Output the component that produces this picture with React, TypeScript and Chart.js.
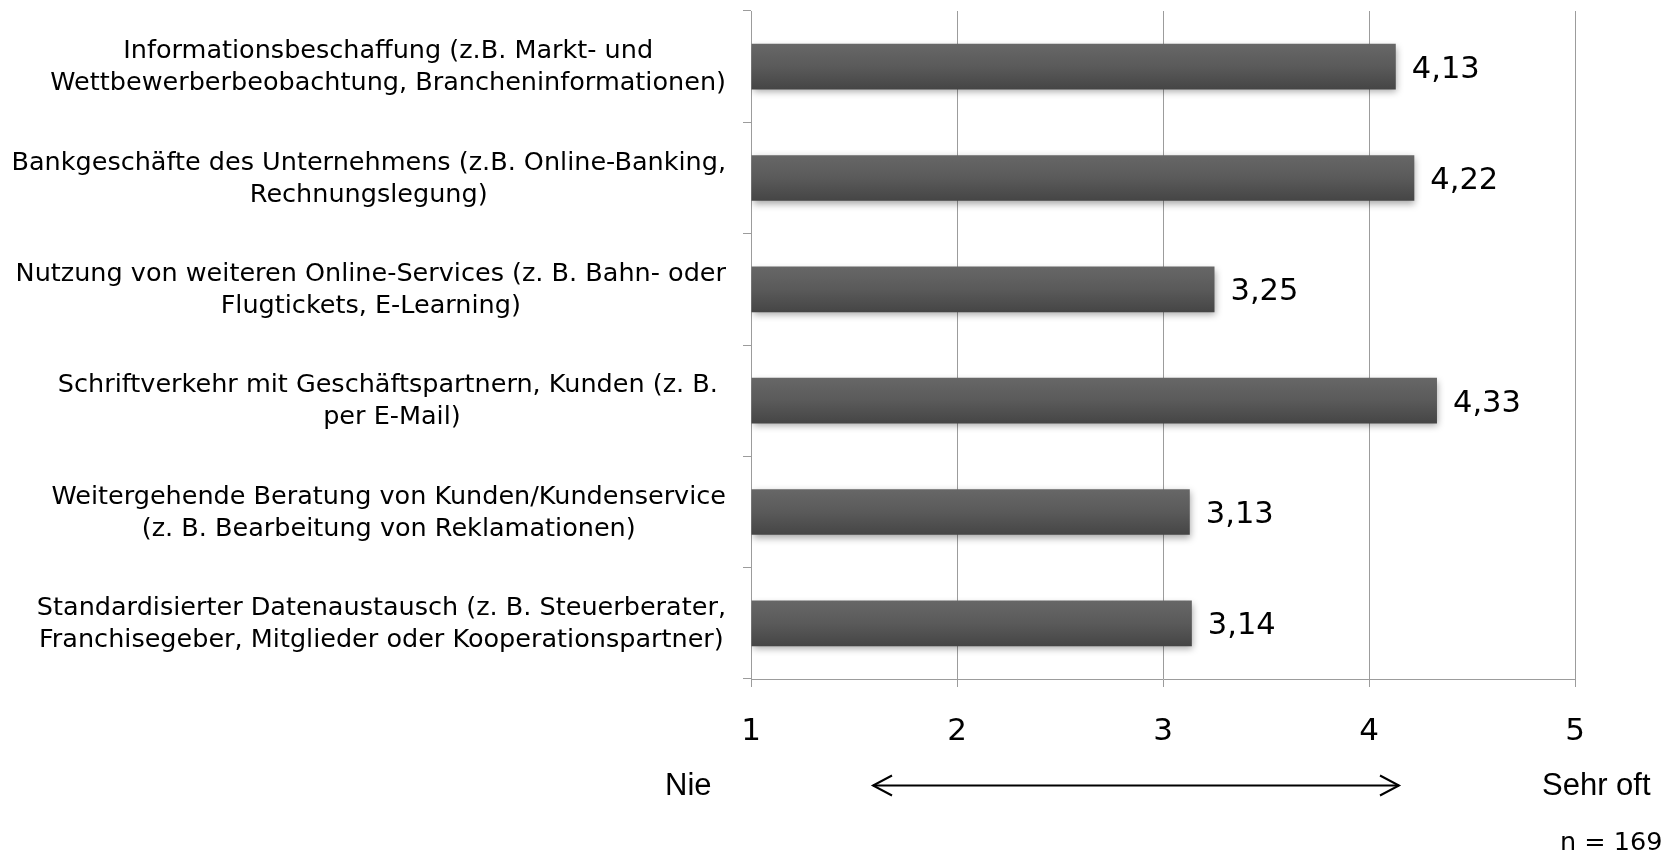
import { useEffect, useRef } from 'react';
import { Chart, registerables } from 'chart.js';

Chart.register(...registerables);

const categories: string[][] = [
  ['Informationsbeschaffung (z.B. Markt- und', 'Wettbewerberbeobachtung, Brancheninformationen)'],
  ['Bankgeschäfte des Unternehmens (z.B. Online-Banking,', 'Rechnungslegung)'],
  ['Nutzung von weiteren Online-Services (z. B. Bahn- oder', 'Flugtickets, E-Learning)'],
  ['Schriftverkehr mit Geschäftspartnern, Kunden (z. B. ', 'per E-Mail)'],
  ['Weitergehende Beratung von Kunden/Kundenservice', '(z. B. Bearbeitung von Reklamationen)'],
  ['Standardisierter Datenaustausch (z. B. Steuerberater,', 'Franchisegeber, Mitglieder oder Kooperationspartner)'],
];
const values: number[] = [4.13, 4.22, 3.25, 4.33, 3.13, 3.14];
const axisMin = 1;
const axisMax = 5;
const lowLabel = 'Nie';
const highLabel = 'Sehr oft';
const sampleNote = 'n = 169';

const FONT = '"DejaVu Sans", sans-serif';
const GRID = '#9c9c9c';
const BAR_FRACTION = 0.41;

const fmt = (v: number) => v.toFixed(2).replace('.', ',');

const customPlugin = {
  id: 'customDecor',
  beforeDatasetsDraw(chart: any) {
    const ctx = chart.ctx;
    ctx.save();
    ctx.shadowColor = 'rgba(0,0,0,0.35)';
    ctx.shadowBlur = 7;
    ctx.shadowOffsetX = 1;
    ctx.shadowOffsetY = 3;
  },
  afterDatasetsDraw(chart: any) {
    const ctx = chart.ctx;
    ctx.restore();
    const meta = chart.getDatasetMeta(0);
    ctx.save();
    ctx.fillStyle = '#000';
    ctx.font = `30.5px ${FONT}`;
    ctx.textAlign = 'left';
    ctx.textBaseline = 'middle';
    meta.data.forEach((bar: any, i: number) => {
      ctx.fillText(fmt(values[i]), bar.x + 16, bar.y + 3);
    });
    ctx.restore();
  },
  afterDraw(chart: any) {
    const ctx = chart.ctx;
    const ys = chart.scales.y;
    const area = chart.chartArea;
    ctx.save();
    ctx.fillStyle = '#000';
    ctx.font = `25.5px ${FONT}`;
    ctx.textBaseline = 'middle';
    ctx.textAlign = 'center';
    const rightEdge = area.left - 25;
    const lineH = 32;
    categories.forEach((lines, i) => {
      const cy = ys.getPixelForValue(i) + 1;
      const w = Math.max(...lines.map((l) => ctx.measureText(l).width));
      const cx = rightEdge - w / 2;
      lines.forEach((l, j) => {
        ctx.fillText(l, cx, cy + (j - (lines.length - 1) / 2) * lineH);
      });
    });

    // bottom annotations
    ctx.font = '31px "Liberation Sans", Arial, sans-serif';
    ctx.textBaseline = 'alphabetic';
    ctx.textAlign = 'left';
    ctx.fillText(lowLabel, 665, 795);
    ctx.fillText(highLabel, 1542, 795);

    ctx.strokeStyle = '#000';
    ctx.lineWidth = 2;
    const ay = 785.5;
    const x1 = 873;
    const x2 = 1399;
    ctx.beginPath();
    ctx.moveTo(x1, ay);
    ctx.lineTo(x2, ay);
    ctx.stroke();
    ctx.beginPath();
    ctx.moveTo(x1 + 19, ay - 10);
    ctx.lineTo(x1, ay);
    ctx.lineTo(x1 + 19, ay + 10);
    ctx.moveTo(x2 - 19, ay - 10);
    ctx.lineTo(x2, ay);
    ctx.lineTo(x2 - 19, ay + 10);
    ctx.stroke();

    ctx.font = `25.5px ${FONT}`;
    ctx.textBaseline = 'middle';
    ctx.fillText(sampleNote, 1560, 843);
    ctx.restore();
  },
};

export default function App() {
  const ref = useRef<HTMLCanvasElement | null>(null);

  useEffect(() => {
    if (!ref.current) return;
    const chart = new Chart(ref.current, {
      type: 'bar',
      data: {
        labels: categories,
        datasets: [
          {
            data: values,
            base: axisMin,
            backgroundColor: (c: any) => {
              const ch = c.chart;
              const ys = ch.scales?.y;
              if (!ys || c.dataIndex === undefined) return '#555555';
              const band = (ys.bottom - ys.top) / categories.length;
              const half = (band * BAR_FRACTION) / 2;
              const y = ys.getPixelForValue(c.dataIndex);
              if (!isFinite(y) || !isFinite(half) || half <= 0) return '#555555';
              const g = ch.ctx.createLinearGradient(0, y - half, 0, y + half);
              g.addColorStop(0, '#676767');
              g.addColorStop(0.5, '#5a5a5a');
              g.addColorStop(1, '#454545');
              return g;
            },
            borderWidth: 0,
            categoryPercentage: 1,
            barPercentage: BAR_FRACTION,
          } as any,
        ],
      },
      options: {
        indexAxis: 'y',
        responsive: false,
        animation: false,
        layout: { padding: { top: 11, right: 94, bottom: 0, left: 0 } },
        plugins: {
          legend: { display: false },
          tooltip: { enabled: false },
        },
        scales: {
          x: {
            type: 'linear',
            min: axisMin,
            max: axisMax,
            ticks: {
              stepSize: 1,
              color: '#000',
              font: { family: FONT, size: 31 },
              padding: 26,
              callback: (v: any) => String(v),
            },
            grid: { color: GRID, lineWidth: 1, tickLength: 8 },
            border: { color: GRID },
            afterFit: (s: any) => {
              s.height = 852 - 679;
            },
          },
          y: {
            type: 'category',
            ticks: { display: false },
            grid: { color: GRID, offset: true, drawOnChartArea: false, tickLength: 8 },
            border: { color: GRID },
            afterFit: (s: any) => {
              s.width = 751;
            },
          },
        },
      },
      plugins: [customPlugin],
    });
    return () => chart.destroy();
  }, []);

  return (
    <div style={{ position: 'absolute', left: 0, top: 0, width: 1669, height: 852, background: '#fff' }}>
      <canvas ref={ref} width={1669} height={852} style={{ display: 'block' }} />
    </div>
  );
}
